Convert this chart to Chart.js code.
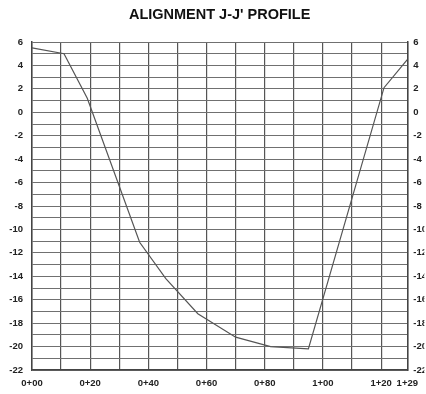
<!DOCTYPE html>
<html>
<head>
<meta charset="utf-8">
<title>Alignment J-J' Profile</title>
<script src="https://cdn.jsdelivr.net/npm/chart.js@4.4.1/dist/chart.umd.min.js"></script>
<style>
  html, body { margin: 0; padding: 0; background: #fff; }
  #wrap { width: 426px; height: 394px; }
</style>
</head>
<body>
<div id="wrap"><canvas id="profile" width="426" height="394"></canvas></div>
<script>
// Ground profile along the alignment: station (ft past 0+00) vs elevation
const stations   = [0, 11, 19, 37, 46, 57, 70, 82, 95, 121, 129];
const elevations = [5.5, 5.0, 1.2, -11.1, -14.2, -17.2, -19.2, -20.0, -20.2, 2.1, 4.5];

// Station grid lines and the subset that carry a label
const gridStations    = [0, 10, 20, 30, 40, 50, 60, 70, 80, 90, 100, 110, 120, 129];
const labeledStations = [0, 20, 40, 60, 80, 100, 120, 129];

// Elevation range; every foot gets a grid line, every 2 ft a label
const elevMin = -22;
const elevMax = 6;

function stationLabel(v) {
  const hundreds = Math.floor(v / 100);
  const rest = String(Math.round(v % 100)).padStart(2, '0');
  return hundreds + '+' + rest;
}

const points = stations.map((s, i) => ({ x: s, y: elevations[i] }));

const tickFont = { family: '"Liberation Sans", Arial, sans-serif', size: 9.5, weight: 'bold' };
const textColor = '#222';

const elevTickLabel = (v) => (Math.round(v) % 2 === 0 ? String(Math.round(v)) : '');

new Chart(document.getElementById('profile'), {
  type: 'scatter',
  data: {
    datasets: [{
      data: points,
      showLine: true,
      borderColor: '#555',
      borderWidth: 1.2,
      pointRadius: 0,
      tension: 0,
      fill: false
    }]
  },
  options: {
    responsive: false,
    animation: false,
    layout: { padding: 0 },
    plugins: {
      legend: { display: false },
      tooltip: { enabled: false },
      title: {
        display: true,
        fullSize: false,
        text: "ALIGNMENT J-J' PROFILE",
        color: '#111',
        font: { family: '"Liberation Sans", Arial, sans-serif', size: 14.5, weight: 'bold', lineHeight: 1.2 },
        padding: { top: 6, bottom: 18.6 }
      }
    },
    scales: {
      x: {
        type: 'linear',
        min: 0,
        max: 129,
        afterBuildTicks: (axis) => { axis.ticks = gridStations.map(v => ({ value: v })); },
        afterFit: (axis) => { axis.height = 24; },
        ticks: {
          autoSkip: false,
          maxRotation: 0,
          padding: 8,
          color: textColor,
          font: tickFont,
          callback: (v) => (labeledStations.includes(v) ? stationLabel(v) : '')
        },
        grid: { color: '#555', lineWidth: 1.2, drawTicks: false },
        border: { display: true, color: '#444', width: 1.5 }
      },
      y: {
        position: 'left',
        min: elevMin,
        max: elevMax,
        afterFit: (axis) => { axis.width = 32; },
        ticks: {
          stepSize: 1,
          autoSkip: false,
          padding: 9,
          color: textColor,
          font: tickFont,
          callback: elevTickLabel
        },
        grid: { color: '#707070', lineWidth: 1, drawTicks: false },
        border: { display: true, color: '#444', width: 1.5 }
      },
      yRight: {
        position: 'right',
        min: elevMin,
        max: elevMax,
        afterFit: (axis) => { axis.width = 17; },
        ticks: {
          stepSize: 1,
          autoSkip: false,
          padding: 6,
          color: textColor,
          font: tickFont,
          callback: elevTickLabel
        },
        grid: { display: false, drawTicks: false },
        border: { display: true, color: '#444', width: 1.5 }
      }
    }
  }
});
</script>
</body>
</html>
